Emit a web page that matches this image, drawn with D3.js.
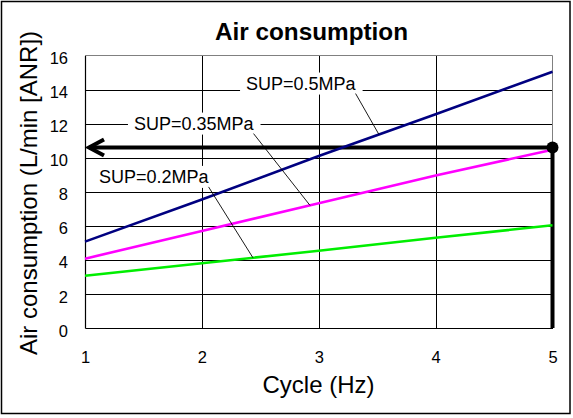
<!DOCTYPE html>
<html><head><meta charset="utf-8">
<script src="https://cdn.jsdelivr.net/npm/d3@7/dist/d3.min.js"></script>
<style>body{margin:0;background:#fff}svg{display:block;font-family:"Liberation Sans",Arial,sans-serif}</style>
</head><body>
<svg id="c" width="573" height="418"></svg>
<script>
const cycles = [1, 2, 3, 4, 5];
const sup05 = [5.07, 7.55, 10.1, 12.55, 15.05];
const sup035 = [4.07, 5.7, 7.32, 8.95, 10.47];
const sup02 = [3.07, 3.8, 4.54, 5.3, 6.03];
const seriesNames = ["SUP=0.5MPa", "SUP=0.35MPa", "SUP=0.2MPa"];
const yTicks = [0, 2, 4, 6, 8, 10, 12, 14, 16];
const xTicks = [1, 2, 3, 4, 5];
const readValue = 10.6; // read-off point at 5 Hz

const svg = d3.select("#c");
const m = {l: 85, r: 552.5, t: 55.5, b: 328};
const x = d3.scaleLinear().domain([1, 5]).range([m.l, m.r]);
const y = d3.scaleLinear().domain([0, 16]).range([m.b, m.t]);

// outer frame
svg.append("rect").attr("x", 1.5).attr("y", 1.5).attr("width", 568.5).attr("height", 412)
  .attr("fill", "#fff").attr("stroke", "#000").attr("stroke-width", 1.5);

// title
svg.append("text").attr("x", 311.5).attr("y", 40).attr("text-anchor", "middle")
  .attr("font-size", 24.3).attr("font-weight", "bold").text("Air consumption");

// grid
const g = svg.append("g");
g.selectAll(".hg").data(yTicks.filter(d => d > 0 && d < 16)).join("line")
  .attr("x1", m.l).attr("x2", m.r).attr("y1", d => Math.round(y(d)) + 0.5).attr("y2", d => Math.round(y(d)) + 0.5)
  .attr("stroke", "#000").attr("stroke-width", 1);
g.selectAll(".vg").data(xTicks.filter(d => d > 1 && d < 5)).join("line")
  .attr("y1", m.t).attr("y2", m.b).attr("x1", d => Math.round(x(d)) + 0.5).attr("x2", d => Math.round(x(d)) + 0.5)
  .attr("stroke", "#000").attr("stroke-width", 1);
// plot border: top/right gray, left/bottom black
g.append("line").attr("x1", m.l).attr("x2", m.r).attr("y1", m.t).attr("y2", m.t).attr("stroke", "#808080");
g.append("line").attr("x1", m.r).attr("x2", m.r).attr("y1", m.t).attr("y2", m.b).attr("stroke", "#808080");

// axes
const yAxis = d3.axisLeft(y).tickValues(yTicks).tickSize(0).tickPadding(17).tickFormat(d3.format("d"));
const xAxis = d3.axisBottom(x).tickValues(xTicks).tickSize(0).tickPadding(23).tickFormat(d3.format("d"));
const ya = svg.append("g").attr("transform", `translate(${m.l},0)`).call(yAxis);
const xa = svg.append("g").attr("transform", `translate(0,${m.b})`).call(xAxis);
[ya, xa].forEach(a => {
  a.select(".domain").attr("stroke", "#000").attr("stroke-width", 1.2);
  a.selectAll("text").attr("font-size", 16.5).attr("fill", "#000").attr("font-family", "Liberation Sans, Arial, sans-serif");
});
ya.selectAll("text").attr("dy", "0.49em");

// axis titles
svg.append("text").attr("transform", "translate(37,193) rotate(-90)").attr("text-anchor", "middle")
  .attr("font-size", 24).text("Air consumption (L/min [ANR])");
svg.append("text").attr("x", 318.5).attr("y", 393).attr("text-anchor", "middle")
  .attr("font-size", 24).text("Cycle (Hz)");

// series
const series = [
  {name: seriesNames[0], vals: sup05, color: "#000080"},
  {name: seriesNames[1], vals: sup035, color: "#ff00ff"},
  {name: seriesNames[2], vals: sup02, color: "#00ee00"}
];
const line = d3.line().x((d, i) => x(cycles[i])).y(d => y(d));

// read-off arrow (drawn under series)
const ay = y(readValue);
svg.append("line").attr("x1", x(5)).attr("x2", x(1) + 4).attr("y1", ay).attr("y2", ay)
  .attr("stroke", "#000").attr("stroke-width", 4);
svg.append("path").attr("d", `M${x(1) + 19},${ay - 8} L${x(1) + 4},${ay} L${x(1) + 19},${ay + 8}`)
  .attr("fill", "none").attr("stroke", "#000").attr("stroke-width", 4).attr("stroke-linejoin", "miter");
svg.append("line").attr("x1", x(5)).attr("x2", x(5)).attr("y1", ay).attr("y2", y(0))
  .attr("stroke", "#000").attr("stroke-width", 4);

svg.selectAll(".s").data(series).join("path")
  .attr("d", d => line(d.vals)).attr("fill", "none")
  .attr("stroke", d => d.color).attr("stroke-width", 2.6);

svg.append("circle").attr("cx", x(5)).attr("cy", ay).attr("r", 6).attr("fill", "#000");

// labels with leader lines
const labels = [
  {s: 0, lx: 2.378, ly: 14.0, tx: 3.515},
  {s: 1, lx: 1.419, ly: 11.65, tx: 2.925},
  {s: 2, lx: 1.12, ly: 8.52, tx: 2.437}
];
const valAt = (s, xv) => {
  const v = series[s].vals;
  const i = Math.min(Math.floor(xv) - 1, 3);
  const t = xv - cycles[i];
  return v[i] + (v[i + 1] - v[i]) * t;
};
labels.forEach(L => {
  const lg = svg.append("g");
  const bg = lg.append("rect").attr("fill", "#fff");
  const t = lg.append("text").attr("x", x(L.lx)).attr("y", y(L.ly)).attr("font-size", 18)
    .text(series[L.s].name);
  const bb = t.node().getBBox();
  bg.attr("x", bb.x - 6).attr("y", bb.y - 1).attr("width", bb.width + 12).attr("height", bb.height + 2);
  svg.append("line").attr("x1", bb.x + bb.width - 1).attr("y1", y(L.ly) + 4)
    .attr("x2", x(L.tx)).attr("y2", y(valAt(L.s, L.tx)))
    .attr("stroke", "#000").attr("stroke-width", 0.9);
});
</script>
</body></html>
